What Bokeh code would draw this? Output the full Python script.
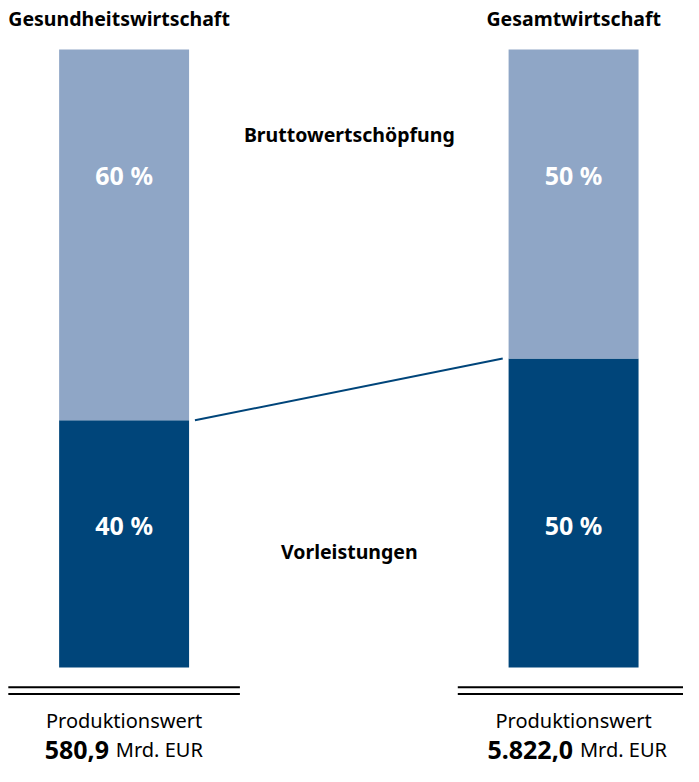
from bokeh.plotting import figure
from bokeh.models import Range1d, ColumnDataSource
from bokeh.core.properties import value
from bokeh.embed import file_html
from bokeh.resources import INLINE

# ---- data ----
sectors = ["Gesundheitswirtschaft", "Gesamtwirtschaft"]
vorleistungen = [40, 50]          # % of Produktionswert
bruttowertschoepfung = [60, 50]   # % of Produktionswert
produktionswert = ["580,9", "5.822,0"]
segment_names = ["Bruttowertschöpfung", "Vorleistungen"]

DARK = "#00457a"
LIGHT = "#8fa6c6"
FONT = "Noto Sans"

W, H = 683, 766
p = figure(width=W, height=H, output_backend="svg", toolbar_location=None,
           x_range=Range1d(0, 699), y_range=Range1d(-16.01, 107.92),
           min_border=0, outline_line_color=None)
p.axis.visible = False
p.grid.visible = False
p.background_fill_color = "white"

bar_x = [126.5, 586.5]
bar_w = 133

src = ColumnDataSource(dict(
    x=bar_x,
    vl=vorleistungen,
    top=[v + b for v, b in zip(vorleistungen, bruttowertschoepfung)],
))
p.vbar(x="x", width=bar_w, bottom=0, top="vl", source=src, fill_color=DARK, line_color=None)
p.vbar(x="x", width=bar_w, bottom="vl", top="top", source=src, fill_color=LIGHT, line_color=None)

# connector line between the Vorleistungen tops
p.line(x=[bar_x[0] + bar_w / 2 + 6, bar_x[1] - bar_w / 2 - 6],
       y=vorleistungen, line_color=DARK, line_width=2)

# percent labels
pct_style = dict(text_font=value(FONT), text_font_style="bold", text_font_size="25px",
                 text_color="white", text_align="center", text_baseline="middle")
p.text(x=bar_x, y=[79.7, 79.7], text=[f"{v} %" for v in bruttowertschoepfung], **pct_style)
p.text(x=bar_x, y=[23.1, 23.1], text=[f"{v} %" for v in vorleistungen], **pct_style)

# segment names in the middle
p.text(x=[357, 357], y=[86.2, 18.7], text=segment_names,
       text_font=value(FONT), text_font_style="bold", text_font_size="19.5px",
       text_color="black", text_align="center", text_baseline="middle")

# titles
p.text(x=[8], y=[105.0], text=[sectors[0]], text_font=value(FONT),
       text_font_style="bold", text_font_size="19.5px", text_color="black",
       text_align="left", text_baseline="middle")
p.text(x=[676], y=[105.0], text=[sectors[1]], text_font=value(FONT),
       text_font_style="bold", text_font_size="19.5px", text_color="black",
       text_align="right", text_baseline="middle")

# double rules
for x0, x1 in [(8, 245), (468, 699)]:
    p.segment(x0=[x0, x0], x1=[x1, x1], y0=[-3.17, -4.28], y1=[-3.17, -4.28],
              line_color="black", line_width=2)

# Produktionswert labels
p.text(x=bar_x, y=[-8.5, -8.5], text=["Produktionswert"] * 2,
       text_font=value(FONT), text_font_size="20px", text_color="black",
       text_align="center", text_baseline="middle")
p.text(x=[111, 586], y=[-13.3, -13.3], text=produktionswert,
       text_font=value(FONT), text_font_style="bold", text_font_size="25px",
       text_color="black", text_align="right", text_baseline="middle")
p.text(x=[118, 593], y=[-13.3, -13.3], text=["Mrd. EUR"] * 2,
       text_font=value(FONT), text_font_size="20px", text_color="black",
       text_align="left", text_baseline="middle")

open("out.html", "w").write(file_html(p, INLINE))
